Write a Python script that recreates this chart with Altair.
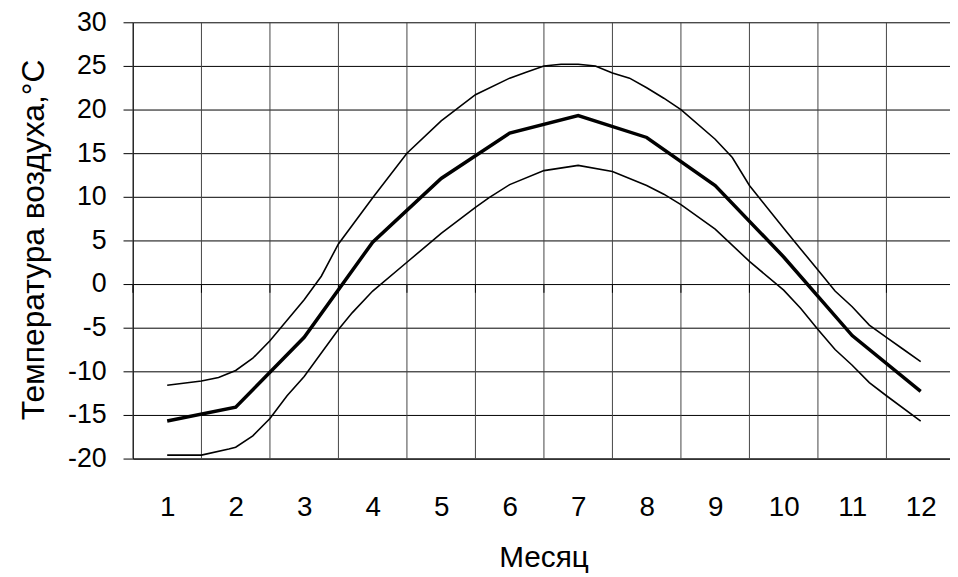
import altair as alt
import pandas as pd

# Mean monthly temperature (thick line)
mean_months = [1, 2, 3, 4, 5, 6, 7, 8, 9, 10, 11, 12]
mean_values = [-15.7, -14.1, -6.1, 4.8, 12.1, 17.3, 19.3, 16.8, 11.3, 3.1, -5.9, -12.3]

# Upper envelope (thin line)
upper_months = [1.0, 1.5, 1.75, 2.0, 2.25, 2.5, 3.0, 3.25, 3.5, 4.0, 4.5, 5.0, 5.5, 6.0,
                6.25, 6.5, 6.75, 7.0, 7.25, 7.5, 7.75, 8.0, 8.25, 8.5, 9.0, 9.25, 9.5,
                10.0, 10.25, 10.5, 10.75, 11.0, 11.25, 11.5, 11.75, 12.0]
upper_values = [-11.6, -11.1, -10.7, -9.9, -8.5, -6.5, -1.8, 0.9, 4.6, 9.9, 15.0, 18.7, 21.7, 23.6,
                24.3, 25.0, 25.2, 25.2, 25.0, 24.2, 23.6, 22.5, 21.3, 20.0, 16.6, 14.5, 11.3,
                6.4, 4.0, 1.6, -0.8, -2.6, -4.7, -6.1, -7.5, -8.9]

# Lower envelope (thin line)
lower_months = [1.0, 1.5, 1.9, 2.0, 2.25, 2.5, 2.75, 3.0, 3.5, 3.7, 4.0, 4.5, 5.0, 5.5, 5.7,
                6.0, 6.5, 7.0, 7.5, 8.0, 8.25, 8.5, 9.0, 9.5, 10.0, 10.25, 10.5, 10.75,
                11.0, 11.25, 11.5, 12.0]
lower_values = [-19.6, -19.6, -18.9, -18.7, -17.4, -15.4, -12.8, -10.6, -5.2, -3.3, -0.8, 2.5, 5.8, 8.8, 9.9,
                11.4, 13.0, 13.6, 12.9, 11.3, 10.3, 9.1, 6.3, 2.6, -0.7, -2.8, -5.2, -7.5,
                -9.3, -11.3, -12.8, -15.7]

month_ticks = list(range(1, 13))
month_bounds = [m + 0.5 for m in range(0, 12)]
y_ticks = list(range(-20, 31, 5))

FONT = "Liberation Sans"

xscale = alt.Scale(domain=[0.5, 12.428], nice=False, zero=False)
yscale = alt.Scale(domain=[-20, 30], nice=False, zero=False)

lines_df = pd.concat([
    pd.DataFrame({"m": upper_months, "v": upper_values, "s": "upper"}),
    pd.DataFrame({"m": lower_months, "v": lower_values, "s": "lower"}),
])
mean_df = pd.DataFrame({"m": mean_months, "v": mean_values})
bounds_df = pd.DataFrame({"b": month_bounds, "top": 30, "bot": -20, "z": 0, "zt": -1.0})

x_axis = alt.Axis(values=month_ticks, grid=False, ticks=False, domain=True,
                  domainColor="#000", domainWidth=1, labelExpr="'' + datum.value",
                  labelFont=FONT, labelFontSize=28, labelColor="#000", labelPadding=35,
                  title="Месяц", titleFont=FONT, titleFontSize=30, titleFontWeight="normal",
                  titleColor="#000", titleBaseline="alphabetic", titleX=414, titleY=109)
y_axis = alt.Axis(values=y_ticks, grid=True, gridColor="#000", gridWidth=1, gridOpacity=1,
                  ticks=True, tickSize=10, tickColor="#000", tickWidth=1,
                  domain=True, domainColor="#000", domainWidth=1, labelExpr="'' + datum.value",
                  labelFont=FONT, labelFontSize=27, labelColor="#000", labelPadding=17,
                  title="Температура воздуха,°C", titleFont=FONT, titleFontSize=32,
                  titleFontWeight="normal", titleColor="#000", titleBaseline="alphabetic",
                  titleAngle=-90, titleX=-90, titleY=219)

vgrid = alt.Chart(bounds_df).mark_rule(color="#444", strokeWidth=1).encode(
    x=alt.X("b:Q", scale=xscale, axis=x_axis),
    y=alt.Y("top:Q", scale=yscale, axis=y_axis),
    y2="bot:Q",
)
zero_ticks = alt.Chart(bounds_df).mark_rule(color="#000", strokeWidth=1).encode(
    x=alt.X("b:Q", scale=xscale),
    y=alt.Y("z:Q", scale=yscale),
    y2="zt:Q",
)
thin = alt.Chart(lines_df).mark_line(color="#000", strokeWidth=1.6).encode(
    x=alt.X("m:Q", scale=xscale),
    y=alt.Y("v:Q", scale=yscale),
    detail="s:N",
)
thick = alt.Chart(mean_df).mark_line(color="#000", strokeWidth=3.5).encode(
    x=alt.X("m:Q", scale=xscale),
    y=alt.Y("v:Q", scale=yscale),
)

chart = alt.layer(vgrid, zero_ticks, thin, thick).properties(
    width=824, height=440,
    autosize=alt.AutoSizeParams(type="none"),
    padding={"left": 126, "top": 12, "right": 0, "bottom": 115},
    background="white",
).configure_view(stroke=None)

chart.save("out.html", embed_options={"renderer": "svg", "actions": False})
